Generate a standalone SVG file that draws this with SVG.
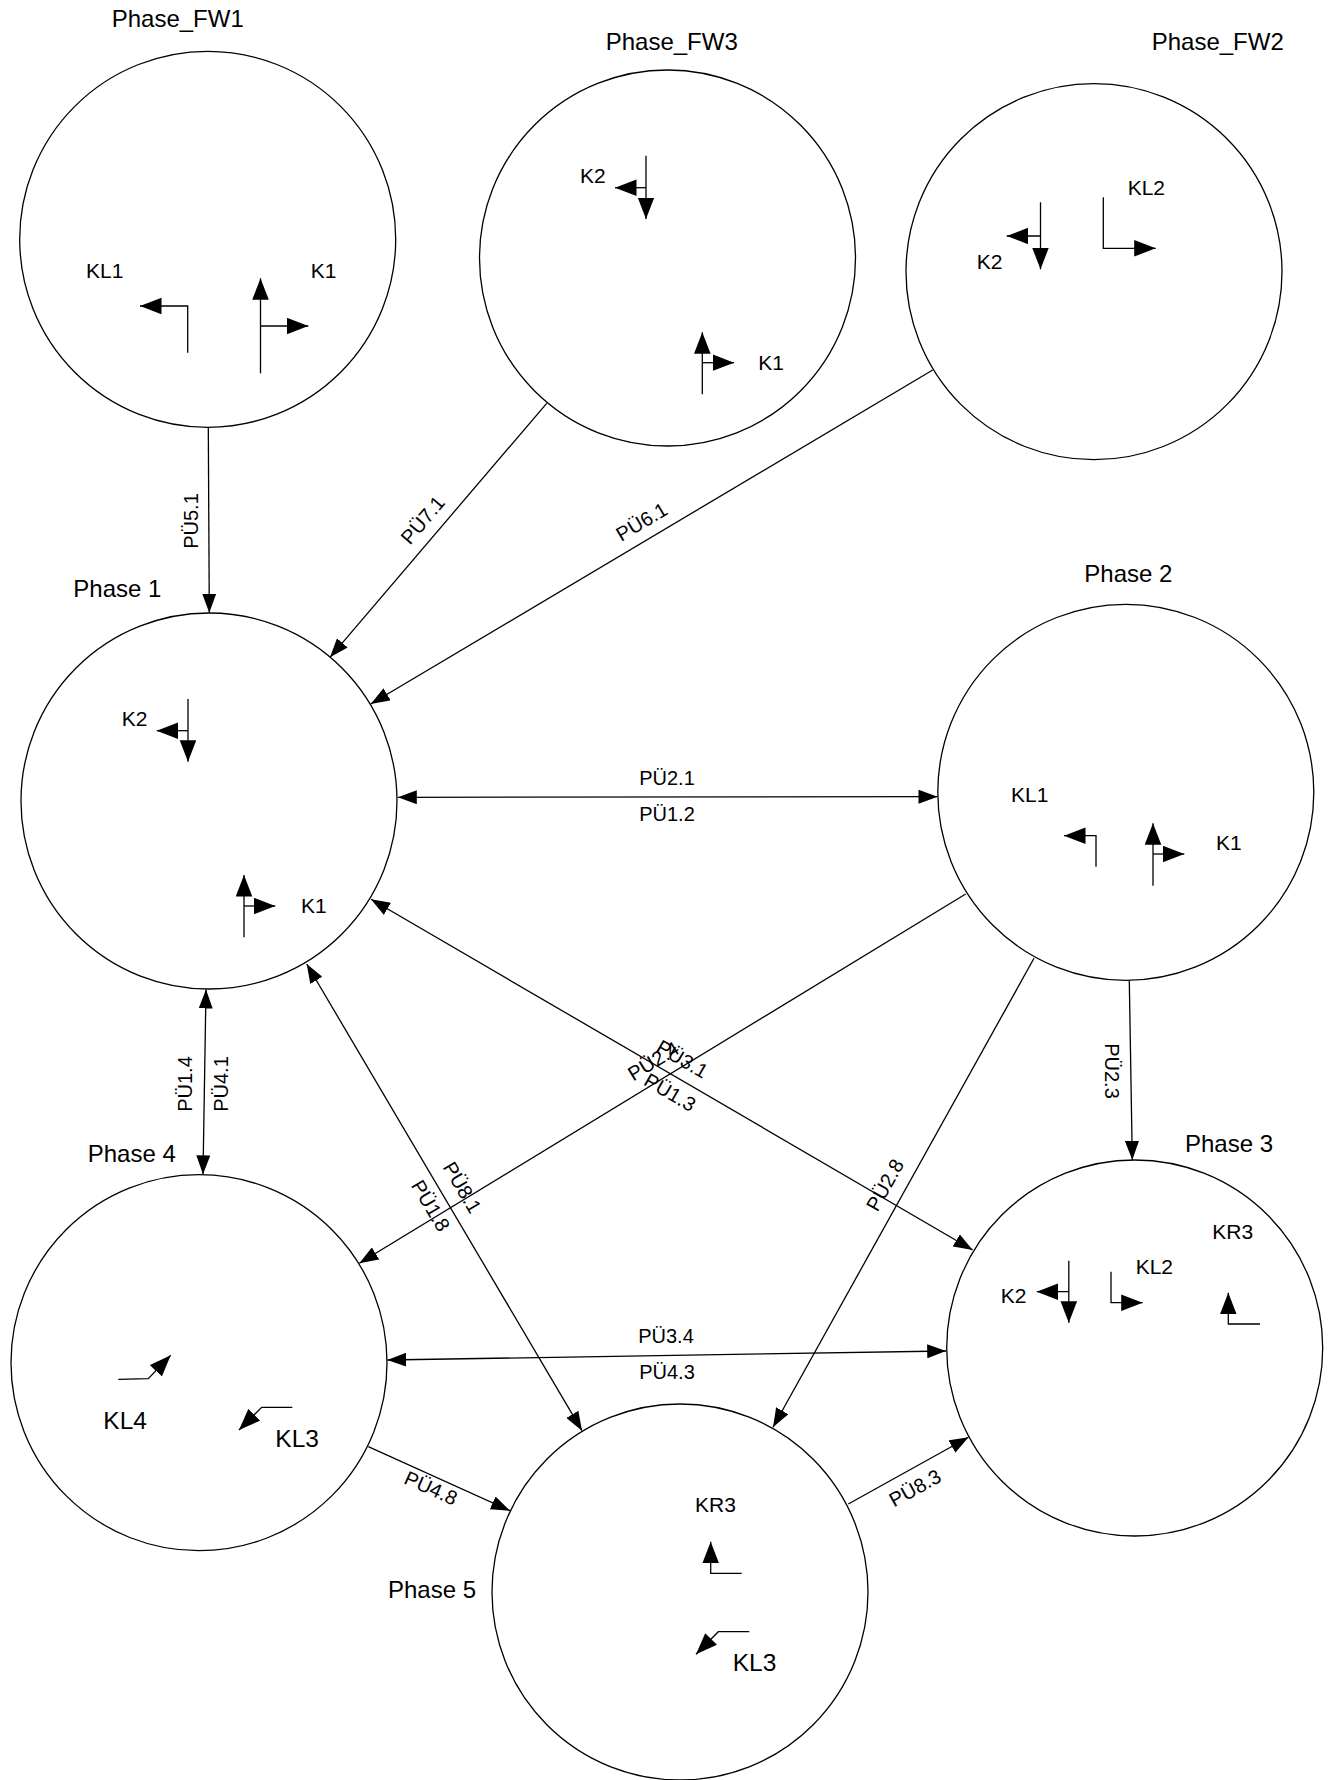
<svg xmlns="http://www.w3.org/2000/svg" width="1330" height="1780" viewBox="0 0 1330 1780">
<style>
  .ph { fill: #fff; stroke: #000; stroke-width: 1.3; }
  .pl { font-family: "Liberation Sans", Arial, sans-serif; font-size: 24px; fill: #000; }
  .il { font-family: "Liberation Sans", Arial, sans-serif; font-size: 21px; fill: #000; }
  .ib { font-family: "Liberation Sans", Arial, sans-serif; font-size: 24.5px; fill: #000; }
  .sym { fill: none; stroke: #000; stroke-width: 1.3; marker-end: url(#sa); }
  .con { fill: none; stroke: #000; stroke-width: 1.3; marker-end: url(#ca); }
  .bi { marker-start: url(#ca); }
  .el { font-family: "Liberation Sans", Arial, sans-serif; font-size: 20px; fill: #000; text-anchor: middle; }
</style>
<defs>
  <marker id="sa" markerUnits="userSpaceOnUse" markerWidth="22" markerHeight="17" refX="21.5" refY="8.3" orient="auto" viewBox="0 0 22 17">
    <path d="M0,0 L21.5,8.3 L0,16.6 z" fill="#000"/>
  </marker>
  <marker id="ca" markerUnits="userSpaceOnUse" markerWidth="19" markerHeight="14" refX="19" refY="7" orient="auto-start-reverse" viewBox="0 0 19 14">
    <path d="M0,0 L19,7 L0,14 z" fill="#000"/>
  </marker>
</defs>
<rect width="1330" height="1780" fill="#fff"/>

<g id="connectors">
  <g id="e-fw1-p1"><path class="con" d="M208.3,427 L209.3,612.7"/><text class="el" transform="translate(190.6,521) rotate(-90)" dy="0.35em">PÜ5.1</text></g>
  <g id="e-fw3-p1"><path class="con" d="M546.7,403.3 L330,657.3"/><text class="el" transform="translate(422.7,520) rotate(-49.5)" dy="0.35em">PÜ7.1</text></g>
  <g id="e-fw2-p1"><path class="con" d="M932.7,370 L370.7,704"/><text class="el" transform="translate(641.6,521.7) rotate(-30.7)" dy="0.35em">PÜ6.1</text></g>
  <g id="e-p1-p2"><path class="con bi" d="M397.8,797.3 L937.5,796.7"/><text class="el" x="667" y="785">PÜ2.1</text><text class="el" x="667" y="821">PÜ1.2</text></g>
  <g id="e-p1-p4"><path class="con bi" d="M206,989.5 L203,1174.3"/><text class="el" transform="translate(185,1084) rotate(-90)" dy="0.35em">PÜ1.4</text><text class="el" transform="translate(221,1084) rotate(-90)" dy="0.35em">PÜ4.1</text></g>
  <g id="e-p2-p3"><path class="con" d="M1129.3,980.7 L1132.3,1160"/><text class="el" transform="translate(1112,1071) rotate(90)" dy="0.35em">PÜ2.3</text></g>
  <g id="e-p1-p3"><path class="con bi" d="M371,899.3 L972.7,1250"/><text class="el" transform="translate(682.3,1059) rotate(30.2)" dy="0.35em">PÜ3.1</text><text class="el" transform="translate(670,1092.3) rotate(30.2)" dy="0.35em">PÜ1.3</text></g>
  <g id="e-p2-p4"><path class="con" d="M965.7,894 L359.3,1263.3"/><text class="el" transform="translate(653.3,1061) rotate(-31.3)" dy="0.35em">PÜ2.4</text></g>
  <g id="e-p1-p5"><path class="con bi" d="M306.7,964 L582,1430.7"/><text class="el" transform="translate(462.3,1187.3) rotate(59.5)" dy="0.35em">PÜ8.1</text><text class="el" transform="translate(430.7,1205.7) rotate(59.5)" dy="0.35em">PÜ1.8</text></g>
  <g id="e-p2-p5"><path class="con" d="M1034,958.3 L773,1427.3"/><text class="el" transform="translate(885,1185) rotate(-60.9)" dy="0.35em">PÜ2.8</text></g>
  <g id="e-p4-p3"><path class="con bi" d="M387.3,1360 L946.2,1351"/><text class="el" x="666" y="1342.7">PÜ3.4</text><text class="el" x="667" y="1379">PÜ4.3</text></g>
  <g id="e-p4-p5"><path class="con" d="M368.3,1446.7 L510,1510.7"/><text class="el" transform="translate(431,1488) rotate(24.3)" dy="0.35em">PÜ4.8</text></g>
  <g id="e-p5-p3"><path class="con" d="M848.3,1504 L968.5,1437.3"/><text class="el" transform="translate(915,1488) rotate(-29)" dy="0.35em">PÜ8.3</text></g>
</g>

<g id="phase-fw1">
  <circle class="ph" cx="207.7" cy="239.3" r="188"/>
  <text class="pl" x="111.7" y="26.7">Phase_FW1</text>
  <text class="il" x="86" y="278.3">KL1</text>
  <text class="il" x="310.7" y="278.3">K1</text>
  <path class="sym" d="M187.7,352.7 V306 H140"/>
  <path class="sym" d="M260.5,373.3 V278.3"/>
  <path class="sym" d="M260.5,326 H308.3"/>
</g>

<g id="phase-fw3">
  <circle class="ph" cx="667.5" cy="258" r="188"/>
  <text class="pl" x="605.7" y="50">Phase_FW3</text>
  <text class="il" x="580" y="183.3">K2</text>
  <text class="il" x="758.3" y="370">K1</text>
  <path class="sym" d="M646,155.7 V219"/>
  <path class="sym" d="M646,187.7 H615"/>
  <path class="sym" d="M702.3,394.3 V332.3"/>
  <path class="sym" d="M702.3,362.7 H734"/>
</g>

<g id="phase-fw2">
  <circle class="ph" cx="1094" cy="271.7" r="188"/>
  <text class="pl" x="1151.7" y="50">Phase_FW2</text>
  <text class="il" x="1127.7" y="195">KL2</text>
  <text class="il" x="976.7" y="269.3">K2</text>
  <path class="sym" d="M1103.3,197.3 V248.3 H1155.7"/>
  <path class="sym" d="M1040.5,202.3 V269.3"/>
  <path class="sym" d="M1040.5,236 H1006.7"/>
</g>

<g id="phase-1">
  <circle class="ph" cx="209" cy="801" r="188"/>
  <text class="pl" x="73.3" y="597.3">Phase 1</text>
  <text class="il" x="121.7" y="725.7">K2</text>
  <text class="il" x="301" y="913.3">K1</text>
  <path class="sym" d="M188,699 V761.7"/>
  <path class="sym" d="M188,730.7 H156.7"/>
  <path class="sym" d="M244,937.3 V875"/>
  <path class="sym" d="M244,906 H275.3"/>
</g>

<g id="phase-2">
  <circle class="ph" cx="1125.8" cy="792.3" r="188"/>
  <text class="pl" x="1084.3" y="581.7">Phase 2</text>
  <text class="il" x="1011" y="801.7">KL1</text>
  <text class="il" x="1216" y="850">K1</text>
  <path class="sym" d="M1096,866.7 V835.7 H1064"/>
  <path class="sym" d="M1153,885.7 V823.3"/>
  <path class="sym" d="M1153,854 H1184.3"/>
</g>

<g id="phase-3">
  <circle class="ph" cx="1134.7" cy="1348" r="188"/>
  <text class="pl" x="1185" y="1151.7">Phase 3</text>
  <text class="il" x="1212.3" y="1239.3">KR3</text>
  <text class="il" x="1135.7" y="1274">KL2</text>
  <text class="il" x="1000.7" y="1303.3">K2</text>
  <path class="sym" d="M1068.8,1260.7 V1322.7"/>
  <path class="sym" d="M1068.8,1291.7 H1036.7"/>
  <path class="sym" d="M1111,1271.7 V1302.7 H1142.7"/>
  <path class="sym" d="M1260,1324 H1228.3 V1292.7"/>
</g>

<g id="phase-4">
  <circle class="ph" cx="199" cy="1362.7" r="188"/>
  <text class="pl" x="87.7" y="1161.7">Phase 4</text>
  <text class="ib" x="103.3" y="1429.3">KL4</text>
  <text class="ib" x="275.3" y="1446.7">KL3</text>
  <path class="sym" d="M118.3,1379.3 L148.3,1378.7 L170.7,1355.3"/>
  <path class="sym" d="M292.3,1407.3 H261.7 L239,1430"/>
</g>

<g id="phase-5">
  <circle class="ph" cx="680" cy="1592" r="188"/>
  <text class="pl" x="388" y="1598">Phase 5</text>
  <text class="il" x="695" y="1511.7">KR3</text>
  <text class="ib" x="732.7" y="1671">KL3</text>
  <path class="sym" d="M741.7,1573.3 H710.7 V1541.7"/>
  <path class="sym" d="M749.3,1631.7 H718.3 L696,1654.3"/>
</g>
</svg>
